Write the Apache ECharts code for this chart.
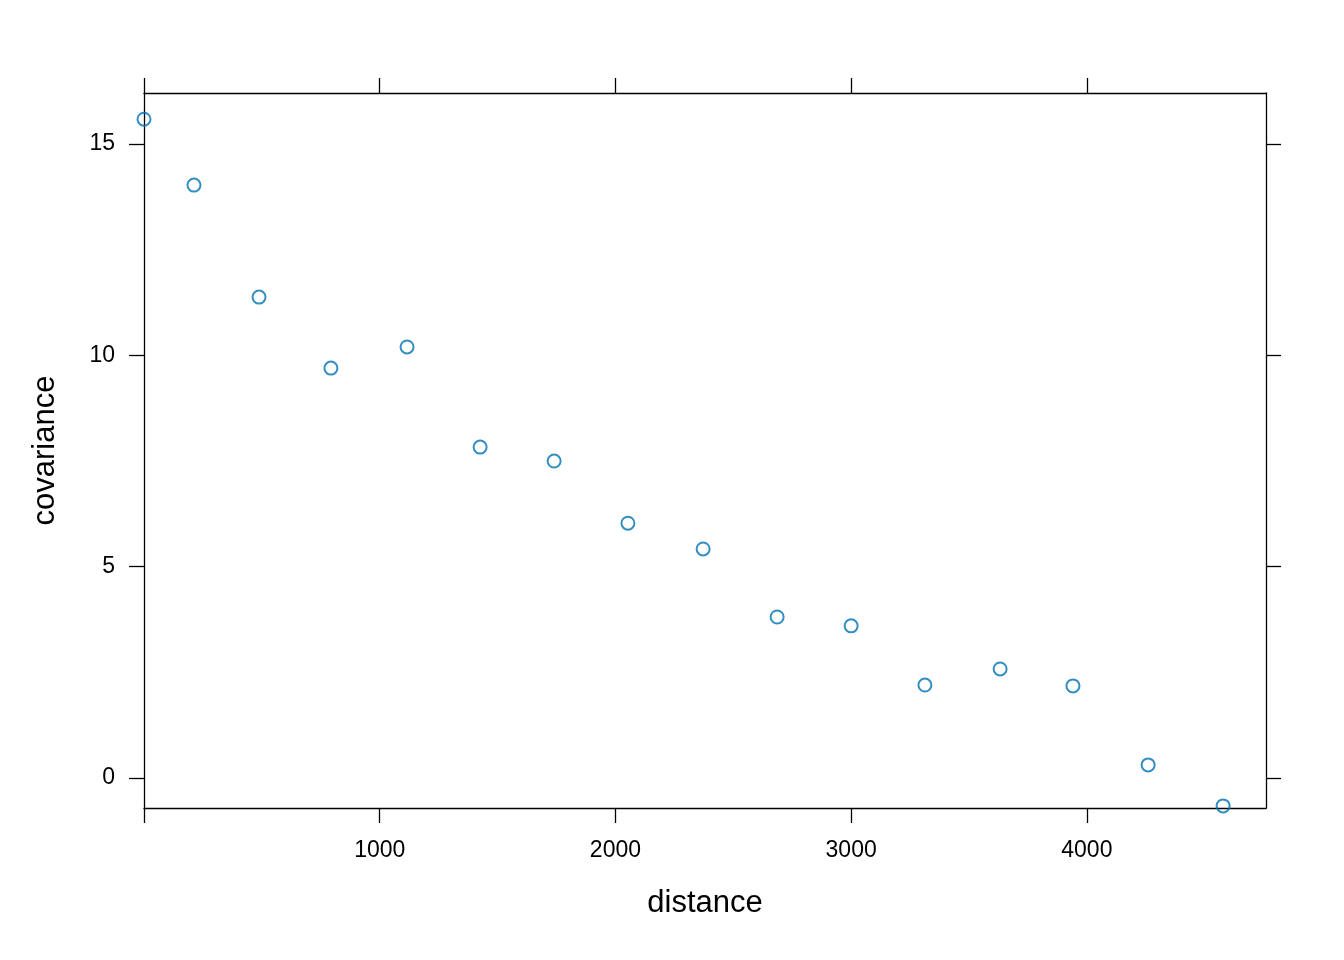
<!DOCTYPE html>
<html>
<head>
<meta charset="utf-8">
<title>covariance vs distance</title>
<script src="https://cdn.jsdelivr.net/npm/echarts@6/dist/echarts.min.js"></script>
<style>
  html, body { margin: 0; padding: 0; background: #fff; }
  #main { width: 1344px; height: 960px; }
</style>
</head>
<body>
<div id="main"></div>
<script>
// values
const distance = [0, 212, 488, 793, 1116, 1426, 1740, 2053, 2372, 2686, 3000, 3313, 3632, 3941, 4260, 4578];
const covariance = [15.59, 14.03, 11.38, 9.70, 10.20, 7.83, 7.50, 6.03, 5.42, 3.81, 3.60, 2.20, 2.58, 2.18, 0.31, -0.66];

const xTicks = [0, 1000, 2000, 3000, 4000];
const xLabels = [1000, 2000, 3000, 4000];
const yTicks = [0, 5, 10, 15];

const points = distance.map((d, i) => [d, covariance[i]]);

const font = "'Liberation Sans', Arial, Helvetica, sans-serif";
const lineStyle = { color: "#000", width: 1.3 };

const chart = echarts.init(document.getElementById("main"));

function xAx(pos, showLabel) {
  return {
    type: "value",
    position: pos,
    min: 0,
    max: 4760,
    splitLine: { show: false },
    axisLine: { show: true, onZero: false, lineStyle: lineStyle },
    axisTick: { show: true, inside: false, length: 15, customValues: xTicks, lineStyle: lineStyle },
    axisLabel: {
      show: showLabel,
      customValues: xLabels,
      formatter: (v) => String(v),
      margin: 31,
      color: "#000",
      fontSize: 23,
      fontFamily: font,
    },
  };
}

function yAx(pos, showLabel) {
  return {
    type: "value",
    position: pos,
    min: -0.71,
    max: 16.21,
    splitLine: { show: false },
    axisLine: { show: true, onZero: false, lineStyle: lineStyle },
    axisTick: { show: true, inside: false, length: 15, customValues: yTicks, lineStyle: lineStyle },
    axisLabel: {
      show: showLabel,
      customValues: yTicks,
      formatter: (v) => String(v),
      margin: 29,
      color: "#000",
      fontSize: 23,
      fontFamily: font,
    },
  };
}

const xBottom = xAx("bottom", true);
xBottom.name = "distance";
xBottom.nameLocation = "middle";
xBottom.nameGap = 80;
xBottom.nameTextStyle = { color: "#000", fontSize: 31, fontFamily: font };

const yLeft = yAx("left", true);
yLeft.name = "covariance";
yLeft.nameLocation = "middle";
yLeft.nameGap = 83;
yLeft.nameTextStyle = { color: "#000", fontSize: 31, fontFamily: font };

chart.setOption({
  backgroundColor: "#fff",
  animation: false,
  grid: { left: 144, top: 93, right: 78, bottom: 152, containLabel: false },
  xAxis: [xBottom, xAx("top", false)],
  yAxis: [yLeft, yAx("right", false)],
  series: [
    {
      type: "scatter",
      xAxisIndex: 0,
      yAxisIndex: 0,
      data: points,
      symbol: "circle",
      symbolSize: 13,
      clip: false,
      itemStyle: { color: "rgba(0,0,0,0)", borderColor: "#0072B2", borderWidth: 2 },
    },
  ],
});
</script>
</body>
</html>
